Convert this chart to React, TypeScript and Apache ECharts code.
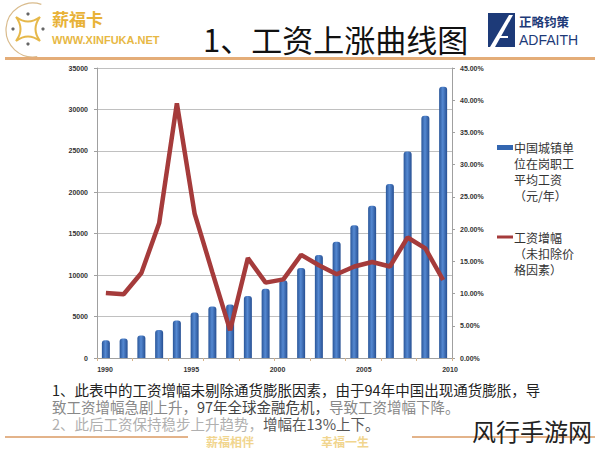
import React, { useEffect, useRef } from "react";
import * as echarts from "echarts";

const years = ["1990","1991","1992","1993","1994","1995","1996","1997","1998","1999","2000","2001","2002","2003","2004","2005","2006","2007","2008","2009"];
const wages = [2140, 2340, 2711, 3371, 4538, 5500, 6210, 6470, 7479, 8346, 9371, 10870, 12422, 14040, 16024, 18364, 21001, 24932, 29229, 32736];
const growth = [10.1, 9.9, 13.2, 20.9, 39.5, 22.4, 13.3, 4.3, 15.5, 11.7, 12.2, 16.0, 14.4, 13.0, 14.2, 14.9, 14.2, 18.7, 17.0, 12.1];
const yearTickLabels = [1990, 1995, 2000, 2005, 2010];
const wageSeriesName = "中国城镇单\n位在岗职工\n平均工资\n（元/年）";
const growthSeriesName = "工资增幅\n（未扣除价\n格因素）";
const titleText = "1、工资上涨曲线图";

const CJK = '"Noto Sans CJK SC", "Noto Sans", sans-serif';
const BLUE = "#3366b0";
const RED = "#a53b3b";

echarts.graphic.registerShape(
  "coinLogo",
  echarts.graphic.extendPath("M-12,-12 Q0,-3 12,-12 Q3,0 12,12 Q0,3 -12,12 Q-3,0 -12,-12 Z", {})
);

export default function App() {
  const ref = useRef<HTMLDivElement>(null);
  useEffect(() => {
    if (!ref.current) return;
    const chart = echarts.init(ref.current, undefined, { renderer: "svg" });
    const axisLabelStyle = { fontSize: 7, color: "#333", fontWeight: "bold" as const, fontFamily: "Liberation Sans, Arial, sans-serif" };
    const noteStyle = (fill: string) => ({ fill, fontSize: 14.5, lineHeight: 17, fontFamily: CJK });
    chart.setOption({
      animation: false,
      backgroundColor: "#ffffff",
      grid: { left: 97, right: 148, top: 68, bottom: 91 },
      xAxis: [
        {
          type: "category",
          data: years,
          position: "bottom",
          axisLabel: { show: false },
          axisLine: { lineStyle: { color: "#a0a0a0" } },
          axisTick: { show: true, length: 3, lineStyle: { color: "#d8b48a" } },
        },
        {
          type: "value",
          position: "bottom",
          min: 1989.536,
          max: 2010.116,
          axisLine: { show: false },
          axisTick: { show: false },
          splitLine: { show: false },
          axisLabel: {
            ...axisLabelStyle,
            margin: 8,
            customValues: yearTickLabels,
            formatter: (v: number) => String(v),
          },
        },
      ],
      yAxis: [
        {
          type: "value",
          min: 0,
          max: 35000,
          interval: 5000,
          position: "left",
          axisLine: { show: true, lineStyle: { color: "#a0a0a0" } },
          axisTick: { show: true, length: 3, lineStyle: { color: "#a0a0a0" } },
          splitLine: { lineStyle: { color: "#c0c0c0" } },
          axisLabel: { ...axisLabelStyle, margin: 9, formatter: (v: number) => String(v) },
        },
        {
          type: "value",
          min: 0,
          max: 45,
          interval: 5,
          position: "right",
          axisLine: { show: true, lineStyle: { color: "#a0a0a0" } },
          axisTick: { show: true, length: 3, lineStyle: { color: "#a0a0a0" } },
          splitLine: { show: false },
          axisLabel: { ...axisLabelStyle, margin: 8, formatter: (v: number) => v.toFixed(2) + "%" },
        },
      ],
      series: [
        {
          name: wageSeriesName,
          type: "bar",
          xAxisIndex: 0,
          yAxisIndex: 0,
          data: wages,
          barWidth: 8,
          itemStyle: {
            borderRadius: [3, 3, 0, 0],
            color: {
              type: "linear", x: 0, y: 0, x2: 1, y2: 0,
              colorStops: [
                { offset: 0, color: "#2a5699" },
                { offset: 0.45, color: "#5589d2" },
                { offset: 1, color: "#264f92" },
              ],
            },
          },
        },
        {
          name: growthSeriesName,
          type: "line",
          xAxisIndex: 0,
          yAxisIndex: 1,
          data: growth,
          showSymbol: false,
          z: 5,
          lineStyle: { color: RED, width: 4.5 },
          itemStyle: { color: RED },
        },
      ],
      graphic: [
        // left logo
        { type: "arc", shape: { cx: 33, cy: 30, r: 27, startAngle: Math.PI * 0.45, endAngle: Math.PI * 1.6 }, style: { stroke: "#d9bb8c", lineWidth: 1.2, fill: null } },
        { type: "coinLogo", x: 28, y: 29, style: { stroke: "#e6b84a", lineWidth: 2, fill: null } },
        { type: "circle", shape: { cx: 28, cy: 14, r: 1.6 }, style: { fill: "#666" } },
        { type: "circle", shape: { cx: 13, cy: 29, r: 1.6 }, style: { fill: "#666" } },
        { type: "circle", shape: { cx: 43, cy: 29, r: 1.6 }, style: { fill: "#666" } },
        { type: "circle", shape: { cx: 28, cy: 44, r: 1.6 }, style: { fill: "#666" } },
        { type: "text", x: 52, y: 18, style: { text: "薪福卡", fontSize: 17, fontWeight: "bold", fill: "#e8b238", fontFamily: CJK, verticalAlign: "middle" } },
        { type: "text", x: 52, y: 40, style: { text: "WWW.XINFUKA.NET", fontSize: 11, fontWeight: "bold", fill: "#e7b844", fontFamily: "Liberation Sans, Arial, sans-serif", verticalAlign: "middle" } },
        // title
        { type: "text", x: 203, y: 38, style: { text: titleText, fontSize: 31, fill: "#111", fontFamily: CJK, verticalAlign: "middle" } },
        // right logo
        { type: "rect", shape: { x: 488, y: 13, width: 27, height: 34 }, style: { fill: "#1d3a78" } },
        { type: "polygon", shape: { points: [[490, 47], [509, 15], [513, 15], [495, 47]] }, style: { fill: "#ffffff" } },
        { type: "rect", shape: { x: 500, y: 36, width: 8, height: 2 }, style: { fill: "#ffffff" } },
        { type: "text", x: 519, y: 21, style: { text: "正略钧策", fontSize: 12.5, fontWeight: "bold", fill: "#1d3a78", fontFamily: CJK, verticalAlign: "middle" } },
        { type: "text", x: 519, y: 40, style: { text: "ADFAITH", fontSize: 14, fill: "#1d3a78", fontFamily: "Liberation Sans Narrow, Liberation Sans, sans-serif", verticalAlign: "middle" } },
        // header rule
        { type: "rect", shape: { x: 5, y: 57, width: 590, height: 3 }, style: { fill: "#e4ad78" } },
        // legend
        { type: "rect", shape: { x: 497, y: 145, width: 16, height: 5 }, style: { fill: BLUE } },
        { type: "text", x: 514, y: 139, style: { text: wageSeriesName, fontSize: 12, lineHeight: 16, fill: "#333", fontFamily: CJK, verticalAlign: "top" } },
        { type: "line", shape: { x1: 497, y1: 237, x2: 513, y2: 237 }, style: { stroke: RED, lineWidth: 3 } },
        { type: "text", x: 514, y: 229, style: { text: growthSeriesName, fontSize: 12, lineHeight: 16, fill: "#333", fontFamily: CJK, verticalAlign: "top" } },
        // bottom decoration
        { type: "rect", shape: { x: 5, y: 436, width: 183, height: 2 }, style: { fill: "#e3b38a" } },
        { type: "rect", shape: { x: 412, y: 436, width: 183, height: 2 }, style: { fill: "#e3b38a" } },
        { type: "text", x: 206, y: 441, style: { text: "薪福相伴", fontSize: 12, lineHeight: 12, fontWeight: "bold", fill: "#f1d58e", fontFamily: CJK, verticalAlign: "middle" } },
        { type: "text", x: 321, y: 441, style: { text: "幸福一生", fontSize: 12, lineHeight: 12, fontWeight: "bold", fill: "#f1d58e", fontFamily: CJK, verticalAlign: "middle" } },
        // bottom notes (one block)
        {
          type: "text", x: 52, y: 380.5,
          style: {
            text:
              "{k|1、此表中的工资增幅未剔除通货膨胀因素，由于94年中国出现通货膨胀，导}\n" +
              "{a|致工资增幅急剧上升，}{b|97年全球金融危机，}{a|导致工资增幅下降。}\n" +
              "{c|2、此后工资保持稳步上升趋势，}{d|增幅在13%上下。}",
            fontSize: 14.5, lineHeight: 17, fontFamily: CJK, verticalAlign: "top",
            rich: { k: noteStyle("#222"), a: noteStyle("#888"), b: noteStyle("#444"), c: noteStyle("#b0b0b0"), d: noteStyle("#555") },
          },
        },
        // watermark
        { type: "text", x: 472, y: 430, style: { text: "风行手游网", fontSize: 24, fill: "#222", fontFamily: CJK, verticalAlign: "middle" } },
      ],
    });
    return () => chart.dispose();
  }, []);
  return <div ref={ref} style={{ position: "fixed", left: 0, top: 0, width: 600, height: 449 }} />;
}
